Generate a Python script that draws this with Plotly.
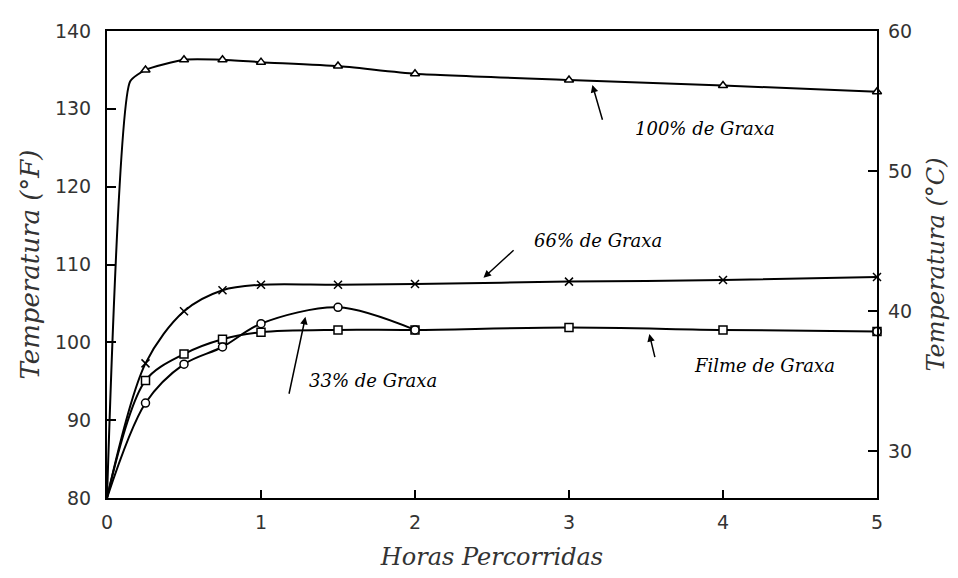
import plotly.graph_objects as go

# horas com marcador
HORAS = [0.25, 0.5, 0.75, 1, 1.5, 2, 3, 4, 5]

graxa_100 = [135.0, 136.3, 136.3, 136.0, 135.5, 134.5, 133.7, 133.0, 132.2]
graxa_66 = [97.3, 104.0, 106.7, 107.4, 107.4, 107.5, 107.8, 108.0, 108.4]
graxa_33 = [92.2, 97.2, 99.4, 102.4, 104.5, 101.6]          # até 2 h
filme = [95.1, 98.5, 100.4, 101.3, 101.6, 101.6, 101.9, 101.6, 101.4]

# ponto inicial e joelho da curva de 100%
inicio_x, inicio_y = 0, 80
joelho_100_x, joelho_100_y = 0.15, 133.5

SERIF = "DejaVu Serif"
SANS = "DejaVu Sans"

fig = go.Figure()


def add_curve(x, y, mx, my, symbol, smooth=0.9):
    fig.add_trace(go.Scatter(
        x=x, y=y, mode="lines",
        line=dict(color="black", width=2, shape="spline", smoothing=smooth),
        hoverinfo="skip", showlegend=False))
    fill = "black" if symbol.startswith("x") else "white"
    fig.add_trace(go.Scatter(
        x=mx, y=my, mode="markers", cliponaxis=False,
        marker=dict(symbol=symbol, size=8, color=fill,
                    line=dict(color="black", width=1.5)),
        showlegend=False))


add_curve([inicio_x, joelho_100_x] + HORAS, [inicio_y, joelho_100_y] + graxa_100,
          HORAS, graxa_100, "triangle-up", smooth=0.5)
add_curve([inicio_x] + HORAS, [inicio_y] + graxa_66, HORAS, graxa_66, "x-thin")
add_curve([inicio_x] + HORAS, [inicio_y] + filme, HORAS, filme, "square")
add_curve([inicio_x] + HORAS[:6], [inicio_y] + graxa_33, HORAS[:6], graxa_33, "circle")
fig.add_trace(go.Scatter(x=[5], y=[filme[-1]], mode="markers", cliponaxis=False,
                         marker=dict(symbol="circle", size=8, color="white",
                                     line=dict(color="black", width=1.5)),
                         showlegend=False))

# eixo direito em °C (trace vazio para ativar y2)
fig.add_trace(go.Scatter(x=[None], y=[None], yaxis="y2", showlegend=False))

# texto (x, y) e seta (cauda -> ponta)
rotulos = [
    ("100% de Graxa", 3.88, 127.5, (3.22, 128.4), (3.15, 133.2)),
    ("66% de Graxa", 3.19, 113.1, (2.65, 112.0), (2.44, 108.2)),
    ("33% de Graxa", 1.73, 95.1, (1.18, 93.2), (1.29, 103.4)),
    ("Filme de Graxa", 4.27, 97.0, (3.56, 97.9), (3.52, 101.2)),
]
for texto, tx, ty, cauda, ponta in rotulos:
    fig.add_annotation(x=tx, y=ty, text=f"<i>{texto}</i>", showarrow=False,
                       font=dict(family=SERIF, size=18, color="black"))
    fig.add_annotation(x=ponta[0], y=ponta[1], ax=cauda[0], ay=cauda[1],
                       axref="x", ayref="y", text="", showarrow=True,
                       arrowhead=2, arrowsize=1, arrowwidth=1.5, arrowcolor="black",
                       standoff=1)

fig.update_layout(
    width=950, height=570,
    margin=dict(l=99, r=81, t=22, b=79),
    paper_bgcolor="white", plot_bgcolor="white",
    font=dict(family=SANS, size=19, color="#333"),
    xaxis=dict(range=[0, 5], tickvals=[0, 1, 2, 3, 4, 5], ticks="inside", ticklen=8,
               tickwidth=1.5, tickcolor="black", showline=True, linecolor="black",
               linewidth=2, mirror=True, showgrid=False, zeroline=False,
               ticklabelstandoff=6,
               title=dict(text="<i>Horas Percorridas</i>",
                          font=dict(family=SERIF, size=24, color="#333"), standoff=16)),
    yaxis=dict(range=[80, 140], tickvals=[80, 90, 100, 110, 120, 130, 140],
               ticks="inside", ticklen=9, tickwidth=1.5, tickcolor="black",
               showline=True, linecolor="black", linewidth=2, mirror=True,
               showgrid=False, zeroline=False, ticklabelstandoff=10,
               title=dict(text="<i>Temperatura (°F)</i>",
                          font=dict(family=SERIF, size=26, color="#333"), standoff=8)),
    yaxis2=dict(overlaying="y", side="right", range=[(80 - 32) / 1.8, (140 - 32) / 1.8],
                tickvals=[30, 40, 50, 60], ticks="inside", ticklen=9, tickwidth=1.5,
                tickcolor="black", showgrid=False, zeroline=False, ticklabelstandoff=10,
                title=dict(text="<i>Temperatura (°C)</i>",
                           font=dict(family=SERIF, size=24, color="#333"), standoff=16)),
)

fig.write_html("out.html")
